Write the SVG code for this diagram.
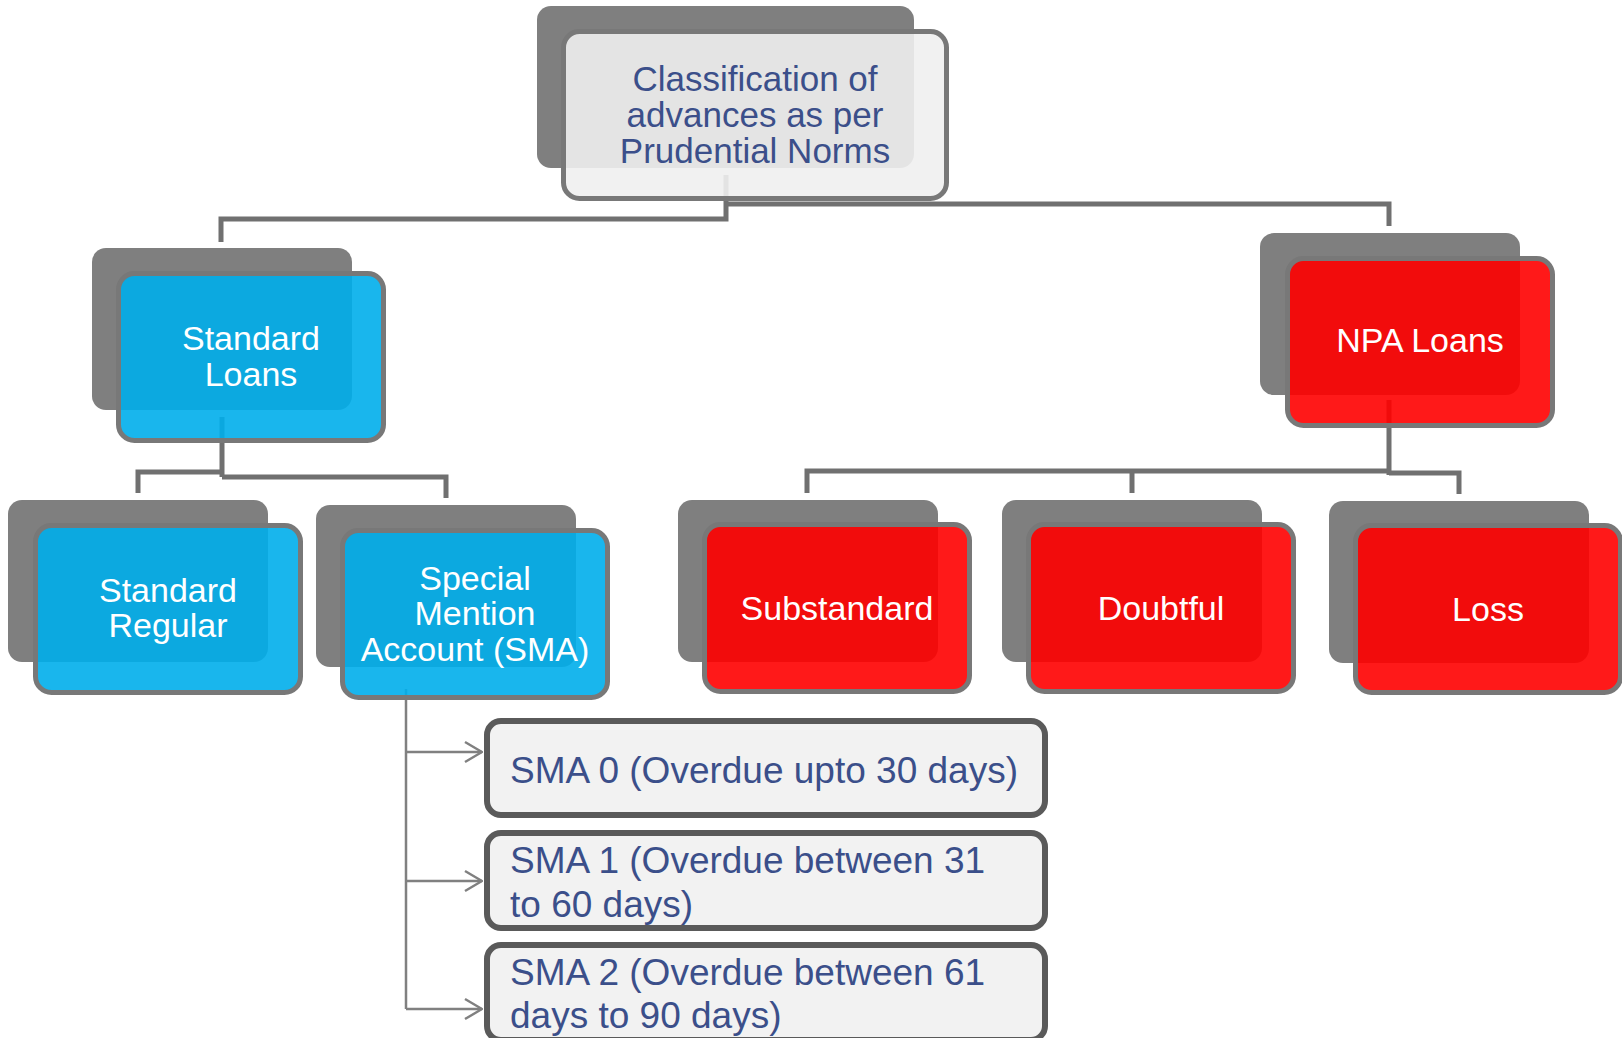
<svg xmlns="http://www.w3.org/2000/svg" width="1622" height="1038" viewBox="0 0 1622 1038">
<defs>
<style>
.sh{fill:#7f7f7f}
.fr{stroke:#787878;stroke-width:5}
.blue{fill:#00aeeb;fill-opacity:0.9}
.red{fill:#ff0000;fill-opacity:0.9}
.grey{fill:#f0f0f0;fill-opacity:0.9}
.wt{font-family:"Liberation Sans",Arial,sans-serif;font-size:34px;fill:#ffffff;text-anchor:middle}
.nt{font-family:"Liberation Sans",Arial,sans-serif;font-size:35px;fill:#3b4f8a;text-anchor:middle}
.lt{font-family:"Liberation Sans",Arial,sans-serif;font-size:37px;fill:#3b4f8a}
.ln{fill:none;stroke:#707070;stroke-width:5}
.ar{fill:none;stroke:#808080;stroke-width:2.5}
.bx{fill:#f2f2f2;stroke:#5a5a5a;stroke-width:6}
</style>
<marker id="chev" viewBox="0 0 20 24" refX="19" refY="12" markerWidth="20" markerHeight="24" markerUnits="userSpaceOnUse" orient="auto">
<polyline points="2,2 19,12 2,22" fill="none" stroke="#808080" stroke-width="2.5"/>
</marker>
</defs>
<g id="connectors">
<path class="ln" d="M726,175 V219 H221 V242"/>
<path class="ln" d="M726,204 H1389 V226"/>
<path class="ln" d="M222,417 V477 M222,472 H138 V493 M222,477 H446 V498"/>
<path class="ln" d="M1389,400 V475 M1389,471 H807 V493 M1132,471 V493 M1389,473 H1459 V494"/>
<path class="ar" d="M406,689 V1009"/>
<path class="ar" d="M406,752 H482" marker-end="url(#chev)"/>
<path class="ar" d="M406,881 H482" marker-end="url(#chev)"/>
<path class="ar" d="M406,1009 H482" marker-end="url(#chev)"/>
</g>
<g id="node-root">
<rect class="sh" x="537" y="6" width="377" height="162" rx="14"/>
<rect class="fr grey" x="563.5" y="31.5" width="383" height="167" rx="16"/>
<text class="nt" x="755" y="91">Classification of</text>
<text class="nt" x="755" y="127">advances as per</text>
<text class="nt" x="755" y="163">Prudential Norms</text>
</g>
<g id="node-standard">
<rect class="sh" x="92" y="248" width="260" height="162" rx="14"/>
<rect class="fr blue" x="118.5" y="273.5" width="265" height="167" rx="16"/>
<text class="wt" x="251" y="350">Standard</text>
<text class="wt" x="251" y="386">Loans</text>
</g>
<g id="node-npa">
<rect class="sh" x="1260" y="233" width="260" height="162" rx="14"/>
<rect class="fr red" x="1287.5" y="258.5" width="265" height="167" rx="16"/>
<text class="wt" x="1420" y="352">NPA Loans</text>
</g>
<g id="node-regular">
<rect class="sh" x="8" y="500" width="260" height="162" rx="14"/>
<rect class="fr blue" x="35.5" y="525.5" width="265" height="167" rx="16"/>
<text class="wt" x="168" y="602">Standard</text>
<text class="wt" x="168" y="637">Regular</text>
</g>
<g id="node-sma">
<rect class="sh" x="316" y="505" width="260" height="162" rx="14"/>
<rect class="fr blue" x="342.5" y="530.5" width="265" height="167" rx="16"/>
<text class="wt" x="475" y="590">Special</text>
<text class="wt" x="475" y="625">Mention</text>
<text class="wt" x="475" y="661">Account (SMA)</text>
</g>
<g id="node-substandard">
<rect class="sh" x="678" y="500" width="260" height="162" rx="14"/>
<rect class="fr red" x="704.5" y="524.5" width="265" height="167" rx="16"/>
<text class="wt" x="837" y="620">Substandard</text>
</g>
<g id="node-doubtful">
<rect class="sh" x="1002" y="500" width="260" height="162" rx="14"/>
<rect class="fr red" x="1028.5" y="524.5" width="265" height="167" rx="16"/>
<text class="wt" x="1161" y="620">Doubtful</text>
</g>
<g id="node-loss">
<rect class="sh" x="1329" y="501" width="260" height="162" rx="14"/>
<rect class="fr red" x="1355.5" y="525.5" width="265" height="167" rx="16"/>
<text class="wt" x="1488" y="621">Loss</text>
</g>
<g id="node-sma0">
<rect class="bx" x="487" y="721" width="558" height="94" rx="14"/>
<text class="lt" x="510" y="783">SMA 0 (Overdue upto 30 days)</text>
</g>
<g id="node-sma1">
<rect class="bx" x="487" y="833" width="558" height="95" rx="14"/>
<text class="lt" x="510" y="873">SMA 1 (Overdue between 31</text>
<text class="lt" x="510" y="917">to 60 days)</text>
</g>
<g id="node-sma2">
<rect class="bx" x="487" y="945" width="558" height="95" rx="14"/>
<text class="lt" x="510" y="985">SMA 2 (Overdue between 61</text>
<text class="lt" x="510" y="1028">days to 90 days)</text>
</g>
</svg>
